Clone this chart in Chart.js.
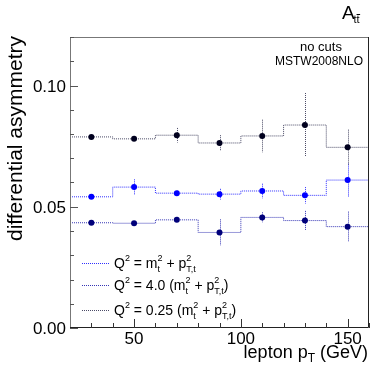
<!DOCTYPE html>
<html>
<head>
<meta charset="utf-8">
<script src="https://cdn.jsdelivr.net/npm/chart.js@4/dist/chart.umd.min.js"></script>
<style>
html,body{margin:0;padding:0;background:#fff;}
#wrap{width:389px;height:373px;position:relative;}
</style>
</head>
<body>
<div id="wrap"><canvas id="c"></canvas></div>
<script>
// ---- data ----
const binEdges = [20, 40, 60, 80, 100, 120, 140, 160];
const binCenters = [30, 50, 70, 90, 110, 130, 150];
const asymNominal = [0.0541, 0.0581, 0.0556, 0.0552, 0.0565, 0.0547, 0.0610];
const errNominal  = [0.0004, 0.0032, 0.0010, 0.0022, 0.0030, 0.0034, 0.0068];
const asymScale4  = [0.0434, 0.0432, 0.0446, 0.0394, 0.0456, 0.0443, 0.0418];
const errScale4   = [0.0004, 0.0008, 0.0012, 0.0054, 0.0021, 0.0040, 0.0062];
const asymScale025 = [0.0788, 0.0780, 0.0795, 0.0763, 0.0792, 0.0837, 0.0745];
const errScale025  = [0.0004, 0.0012, 0.0030, 0.0032, 0.0067, 0.0132, 0.0073];
const yTickValues = [0.00, 0.05, 0.10];
const yTickLabels = ["0.00", "0.05", "0.10"];
const xTickValues = [50, 100, 150];
const xTickLabels = ["50", "100", "150"];

const FONT = '"Liberation Sans", Arial, Helvetica, sans-serif';

const series = [
  {vals: asymNominal, errs: errNominal, line: '#3030ff', marker: '#0000ff'},
  {vals: asymScale4, errs: errScale4, line: '#3535b5', marker: '#00007a'},
  {vals: asymScale025, errs: errScale025, line: '#4a4a66', marker: '#00001e'}
];

const datasets = [];
series.forEach(s => {
  datasets.push({
    data: binEdges.map((e, i) => ({x: e, y: s.vals[Math.min(i, s.vals.length - 1)]})),
    stepped: 'before', borderColor: s.line, borderWidth: 1, borderDash: [1, 1],
    pointRadius: 0, fill: false, order: 3
  });
});
series.forEach(s => {
  datasets.push({
    data: binCenters.map((c, i) => ({x: c, y: s.vals[i]})),
    showLine: false, pointRadius: 3, pointBackgroundColor: s.marker,
    pointBorderColor: s.marker, pointBorderWidth: 0, order: 1
  });
});

function richText(ctx, x, y, parts, align) {
  const widths = parts.map(p => {
    ctx.font = p.size + 'px ' + FONT;
    if (p.t !== undefined) return ctx.measureText(p.t).width;
    return Math.max(ctx.measureText(p.sup || '').width, ctx.measureText(p.sub || '').width);
  });
  const total = widths.reduce((a, b) => a + b, 0);
  let cx = align === 'right' ? x - total : x;
  ctx.textAlign = 'left';
  ctx.textBaseline = 'alphabetic';
  parts.forEach((p, i) => {
    ctx.font = p.size + 'px ' + FONT;
    if (p.t !== undefined) {
      ctx.fillText(p.t, cx, y + (p.dy || 0));
    } else {
      if (p.sup) ctx.fillText(p.sup, cx, y - 7);
      if (p.sub) ctx.fillText(p.sub, cx, y + 4);
    }
    cx += widths[i];
  });
  return total;
}

const decor = {
  id: 'decor',
  beforeDatasetsDraw(chart) {
    const ctx = chart.ctx, xs = chart.scales.x, ys = chart.scales.y;
    ctx.save();
    ctx.lineWidth = 1;
    ctx.setLineDash([1, 1]);
    series.forEach(s => {
      ctx.strokeStyle = s.line;
      binCenters.forEach((c, i) => {
        const px = Math.round(xs.getPixelForValue(c)) + 0.5;
        ctx.beginPath();
        ctx.moveTo(px, ys.getPixelForValue(s.vals[i] + s.errs[i]));
        ctx.lineTo(px, ys.getPixelForValue(s.vals[i] - s.errs[i]));
        ctx.stroke();
      });
    });
    ctx.restore();
  },
  afterDraw(chart) {
    const ctx = chart.ctx, a = chart.chartArea, xs = chart.scales.x, ys = chart.scales.y;
    ctx.save();
    // frame
    ctx.lineWidth = 1;
    ctx.strokeStyle = '#777';
    ctx.beginPath();
    ctx.moveTo(a.left + 0.5, a.bottom); ctx.lineTo(a.left + 0.5, a.top + 0.5); ctx.lineTo(a.right, a.top + 0.5);
    ctx.stroke();
    ctx.strokeStyle = '#222';
    ctx.beginPath();
    ctx.moveTo(a.right - 0.5, a.top); ctx.lineTo(a.right - 0.5, a.bottom - 0.5); ctx.lineTo(a.left, a.bottom - 0.5);
    ctx.stroke();
    // y ticks
    ctx.strokeStyle = '#555';
    for (let v = 0; v <= 0.12 + 1e-9; v += 0.01) {
      const py = Math.round(ys.getPixelForValue(v)) + 0.5;
      const major = Math.abs(v / 0.05 - Math.round(v / 0.05)) < 1e-6;
      ctx.beginPath();
      ctx.moveTo(a.left, py); ctx.lineTo(a.left + (major ? 8 : 4), py);
      ctx.stroke();
    }
    // x ticks
    ctx.strokeStyle = '#333';
    for (let v = 30; v <= 160; v += 10) {
      const px = Math.round(xs.getPixelForValue(v)) + 0.5;
      const major = v % 50 === 0;
      ctx.beginPath();
      ctx.moveTo(px, a.bottom); ctx.lineTo(px, a.bottom - (major ? 9 : 5));
      ctx.stroke();
    }
    // tick labels
    ctx.fillStyle = '#000';
    ctx.font = '17px ' + FONT;
    ctx.textAlign = 'right'; ctx.textBaseline = 'alphabetic';
    yTickValues.forEach((v, i) => ctx.fillText(yTickLabels[i], a.left - 4, ys.getPixelForValue(v) + 6));
    ctx.textAlign = 'center';
    xTickValues.forEach((v, i) => ctx.fillText(xTickLabels[i], xs.getPixelForValue(v), a.bottom + 16));
    // axis titles
    richText(ctx, a.right - 1, 358, [{t: 'lepton p', size: 18}, {sub: 'T', size: 12}, {t: ' (GeV)', size: 18}], 'right');
    ctx.save();
    ctx.translate(22, a.top - 1);
    ctx.rotate(-Math.PI / 2);
    ctx.font = '21px ' + FONT;
    ctx.textAlign = 'right'; ctx.textBaseline = 'alphabetic';
    ctx.fillText('differential asymmetry', 0, 0);
    ctx.restore();
    // title A_tt̄
    ctx.font = '19px ' + FONT; ctx.textAlign = 'left';
    ctx.fillText('A', 342, 19);
    ctx.font = '11px ' + FONT;
    ctx.fillText('tt', 353.5, 23);
    const tw = ctx.measureText('t').width;
    ctx.fillRect(353.5 + tw, 14, tw + 0.5, 1);
    // info text
    ctx.font = '13px ' + FONT; ctx.textAlign = 'center';
    ctx.fillText('no cuts', 321, 51);
    ctx.font = '12px ' + FONT;
    ctx.fillText('MSTW2008NLO', 319, 65);
    // legend
    const M = 14, S = 9;
    const rows = [
      {y: 263, color: series[0].line, parts: [{t: 'Q', size: M}, {sup: '2', size: S}, {t: ' = m', size: M}, {sup: '2', sub: 't', size: S}, {t: ' + p', size: M}, {sup: '2', sub: 'T,t', size: S}], base: 268},
      {y: 285, color: series[1].line, parts: [{t: 'Q', size: M}, {sup: '2', size: S}, {t: ' = 4.0 (m', size: M}, {sup: '2', sub: 't', size: S}, {t: ' + p', size: M}, {sup: '2', sub: 'T,t', size: S}, {t: ')', size: M}], base: 290},
      {y: 310, color: series[2].line, parts: [{t: 'Q', size: M}, {sup: '2', size: S}, {t: ' = 0.25 (m', size: M}, {sup: '2', sub: 't', size: S}, {t: ' + p', size: M}, {sup: '2', sub: 'T,t', size: S}, {t: ')', size: M}], base: 315}
    ];
    rows.forEach(r => {
      ctx.strokeStyle = r.color; ctx.setLineDash([1, 1]); ctx.lineWidth = 1;
      ctx.beginPath(); ctx.moveTo(82, r.y + 0.5); ctx.lineTo(109, r.y + 0.5); ctx.stroke();
      ctx.setLineDash([]);
      ctx.fillStyle = '#000';
      richText(ctx, 114, r.base, r.parts, 'left');
    });
    ctx.restore();
  }
};

new Chart(document.getElementById('c'), {
  type: 'line',
  data: {datasets},
  options: {
    responsive: true, maintainAspectRatio: false, animation: false,
    layout: {padding: {left: 70, right: 20, top: 37, bottom: 45}},
    plugins: {legend: {display: false}, tooltip: {enabled: false}},
    scales: {
      x: {type: 'linear', min: 20, max: 160, display: false},
      y: {min: 0, max: 0.12, display: false}
    }
  },
  plugins: [decor]
});
</script>
</body>
</html>
